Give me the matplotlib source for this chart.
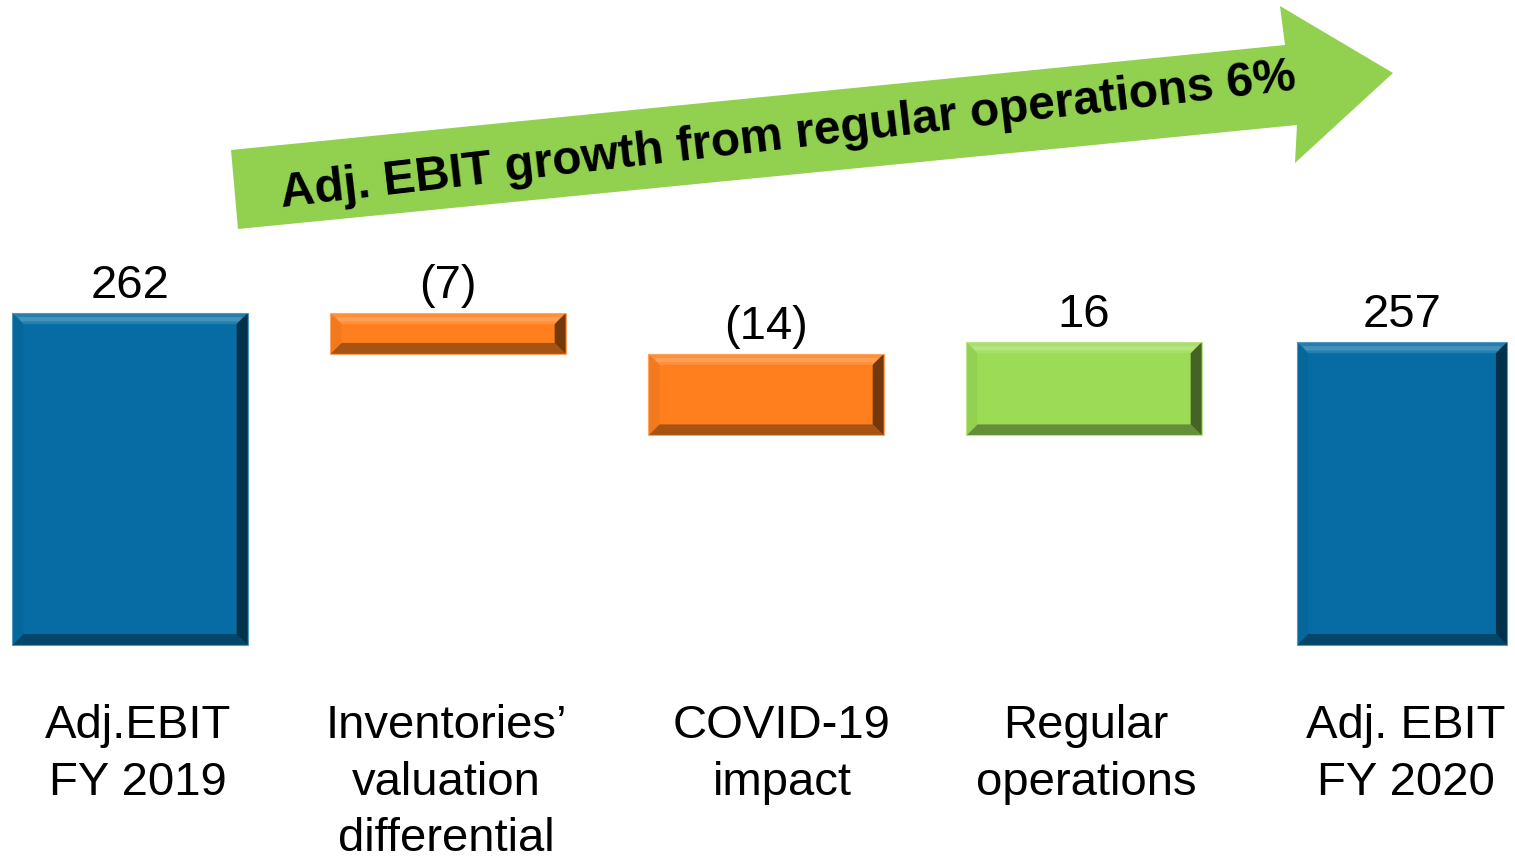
import matplotlib.pyplot as plt
import numpy as np
from matplotlib.patches import Polygon
from matplotlib.colors import to_rgb

plt.rcParams['font.family'] = ['Liberation Sans', 'DejaVu Sans']

# data
categories = ["Adj.EBIT\nFY 2019", "Inventories\u2019\nvaluation\ndifferential",
              "COVID-19\nimpact", "Regular\noperations", "Adj. EBIT\nFY 2020"]
values = [262, -7, -14, 16, 257]
is_total = [True, False, False, False, True]
value_labels = ["262", "(7)", "(14)", "16", "257"]
arrow_text = "Adj. EBIT growth from regular operations 6%"

BLUE = '#066ca3'
ORANGE = '#ff7f1e'
GREEN = '#9cdb56'
ARROW_GREEN = '#92d050'

W, H = 1515, 856
BASE = 205.0  # broken axis baseline
XL = (-130 / 318, (W - 130) / 318)
YL = (168.75, 315.8)
fig = plt.figure(figsize=(W / 100, H / 100), dpi=100)
ax = fig.add_axes([0, 0, 1, 1])
ax.axis('off')
ax.set_xlim(*XL)
ax.set_ylim(*YL)

# pixel -> data scale for bevels
px_x = (XL[1] - XL[0]) / W
px_y = (YL[1] - YL[0]) / H


def shade(c, f):
    c = np.array(to_rgb(c))
    if f >= 0:
        return tuple(c + (1 - c) * f)
    return tuple(c * (1 + f))


def bevel_bar(xc, width, y0, y1, color, bev=11):
    x0, x1 = xc - width / 2, xc + width / 2
    bx, by = bev * px_x, bev * px_y
    ax.bar(xc, y1 - y0, width=width, bottom=y0, color=color, zorder=2)
    top = [(x0, y1), (x1, y1), (x1 - bx, y1 - by), (x0 + bx, y1 - by)]
    top_in = [(x0 + bx * 0.5, y1 - by * 0.35), (x1 - bx * 0.5, y1 - by * 0.35),
              (x1 - bx * 0.8, y1 - by * 0.75), (x0 + bx * 0.8, y1 - by * 0.75)]
    bot = [(x0, y0), (x1, y0), (x1 - bx, y0 + by), (x0 + bx, y0 + by)]
    right = [(x1, y0), (x1, y1), (x1 - bx, y1 - by), (x1 - bx, y0 + by)]
    left = [(x0, y0), (x0, y1), (x0 + bx, y1 - by), (x0 + bx, y0 + by)]
    ax.add_patch(Polygon(top, closed=True, fc=shade(color, 0.12), ec='none', zorder=3))
    ax.add_patch(Polygon(top_in, closed=True, fc=shade(color, 0.25), ec='none', zorder=3))
    ax.add_patch(Polygon(bot, closed=True, fc=shade(color, -0.35), ec='none', zorder=3))
    ax.add_patch(Polygon(left, closed=True, fc=shade(color, -0.05), ec='none', zorder=3))
    ax.add_patch(Polygon(right, closed=True, fc=shade(color, -0.55), ec='none', zorder=4))
    ax.add_patch(Polygon([(x0, y0), (x1, y0), (x1, y1), (x0, y1)], closed=True,
                         fc='none', ec=shade(color, 0.3), lw=0.8, zorder=5))


running = 0
for i, (v, tot) in enumerate(zip(values, is_total)):
    if tot:
        y0, y1 = BASE, v
        running = v
        color = BLUE
        top = v
    else:
        start = running
        running = running + v
        y0, y1 = min(start, running), max(start, running)
        color = GREEN if v > 0 else ORANGE
        top = y1
    width = 0.74 if i < 4 else 0.66
    bevel_bar(i, width, y0, y1, color)
    ax.annotate(value_labels[i], xy=(i, top), xytext=(0, 11), textcoords='offset points',
                ha='center', va='baseline', fontsize=34, color='black')

# category labels (small horizontal nudges in pixels, as in the slide)
label_dx = [8, -2, 16, 2, 4]
for i, cat in enumerate(categories):
    ax.annotate(cat, xy=(i, 1 - 704 / H), xycoords=('data', 'axes fraction'),
                xytext=(label_dx[i] * 0.72, 0), textcoords='offset points',
                ha='center', va='top', fontsize=34, linespacing=1.37, color='black')

# growth arrow
pts = [(238, 229), (231, 150), (1285, 45), (1280, 6), (1393, 73), (1295, 163), (1297, 125)]
arrow = Polygon([(x / W, 1 - y / H) for x, y in pts], closed=True,
                transform=fig.transFigure, fc=ARROW_GREEN, ec='none', zorder=1)
fig.patches.append(arrow)
fig.text(788 / W, 1 - 136 / H, arrow_text, rotation=6.6, rotation_mode='anchor',
         ha='center', va='center', fontsize=34.5, fontweight='bold', color='black')

fig.savefig('out.png', dpi=100)
